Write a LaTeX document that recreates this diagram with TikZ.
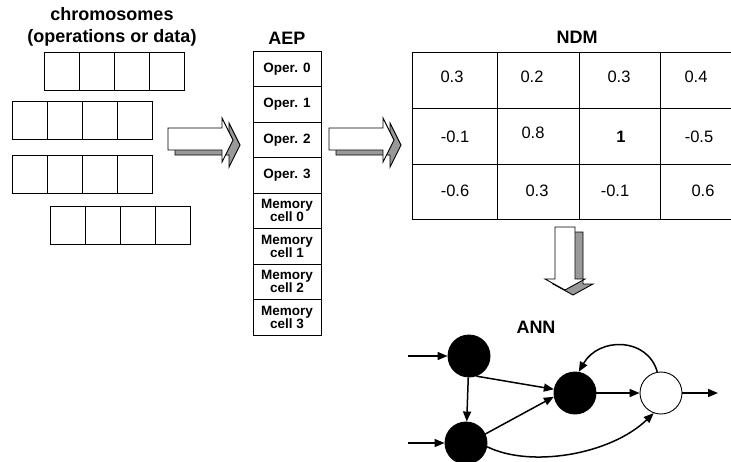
\documentclass[tikz,border=0pt]{standalone}
\usepackage{fontspec}
\setmainfont{Liberation Sans}
\usetikzlibrary{arrows.meta}

\begin{document}
\begin{tikzpicture}
[x=1pt,y=-1pt,line width=.9pt,
title/.style={font=\fontsize{18}{21}\selectfont\bfseries},
cell/.style={draw,minimum width=68pt,minimum height=35.5pt,inner sep=0pt,align=center,font=\fontsize{13.5}{13.3}\selectfont\bfseries},
val/.style={font=\fontsize{16.5}{18}\selectfont},
neuron/.style={circle,draw,fill=black,minimum size=42pt,inner sep=0pt},
link/.style={-{Triangle[length=10pt,width=8pt]},line width=1.5pt}]
\useasboundingbox (0,0) rectangle (731,461);
% chromosomes
\node[title,anchor=base] (chrom) at (112,20) {chromosomes};
\node[title,anchor=base] (chromsub) at (112,42) {(operations or data)};
\foreach \x/\y in {44/52,12/101,12/155,50/206}
\foreach \i in {0,...,3}
\draw ({\x+35*\i},\y) rectangle ++(35,38);
% block arrows
\foreach \dx/\dy/\f in {7/5/black!40,0/0/white}
{
\filldraw[fill=\f,shift={(\dx,\dy)}] (168,128) -- (222,128) -- (222,118) -- (233,140) -- (222,162) -- (222,150) -- (168,150) -- cycle;
\filldraw[fill=\f,shift={(\dx,\dy)}] (329,128) -- (383,128) -- (383,118) -- (394,140) -- (383,162) -- (383,150) -- (329,150) -- cycle;
}
\foreach \dx/\dy/\f in {8/5/black!40,0/0/white}
\filldraw[fill=\f,shift={(\dx,\dy)}] (555,227) -- (575,227) -- (575,279) -- (585,279) -- (565,290) -- (545,279) -- (555,279) -- cycle;
% AEP
\node[title,anchor=base] (aep) at (287,44) {AEP};
\foreach \lbl [count=\i from 0] in {Oper. 0,Oper. 1,Oper. 2,Oper. 3,Memory\\cell 0,Memory\\cell 1,Memory\\cell 2,Memory\\cell 3}
\node[cell] (aep\i) at (287,{68.75+35.5*\i}) {\lbl};
% NDM
\node[title,anchor=base] (ndm) at (577,43) {NDM};
\foreach \y in {52,108,164,219}
\draw (412,\y) -- (731,\y);
\foreach \x in {412,497,579,660}
\draw (\x,52) -- (\x,219);
\foreach \v/\x/\y [count=\i] in {0.3/452/77,0.2/532/77,0.3/619/77,0.4/696/77,
-0.1/455/137,0.8/533/133,\textbf{1}/621/137,-0.5/699/137,
-0.6/455/191,0.3/537/191,-0.1/615/191,0.6/703/191}
\node[val] (v\i) at (\x,\y) {\v};
% ANN
\node[title,anchor=base] (ann) at (536,333) {ANN};
\node[neuron] (n1) at (469,356) {};
\node[neuron] (n2) at (466,443) {};
\node[neuron] (n3) at (575,393) {};
\node[neuron,fill=white] (n4) at (661,393) {};
\coordinate (in1) at (408,356);
\coordinate (in2) at (408,443);
\coordinate (out) at (718,393);
\foreach \from/\to in {in1/n1,in2/n2,n1/n2,n1.-70/n3.170,n2.25/n3.190,n3/n4,n4/out}
\draw[link] (\from) -- (\to);
\draw[link] (n4.100) .. controls +(-10,-35) and +(20,-35) .. (n3.80);
\draw[link] (n2.-10) .. controls (530,468) and (610,455) .. (n4.250);
\end{tikzpicture}
\end{document}
